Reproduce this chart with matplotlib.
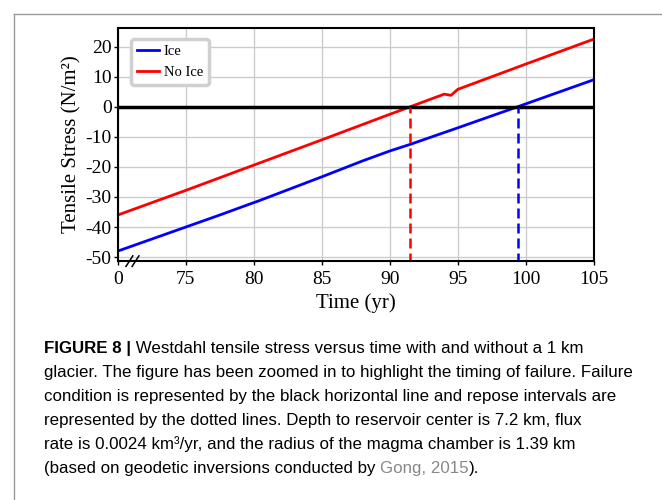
import matplotlib.pyplot as plt
from matplotlib.lines import Line2D

plt.rcParams['axes.unicode_minus'] = False

# data (0 on the broken axis is drawn at 70)
ice_t = [70, 75, 77.5, 79.8, 80.3, 85, 88, 90, 91.5, 95, 99.4, 105]
ice_s = [-48, -40, -36, -32.2, -31.4, -23.3, -18, -14.7, -12.5, -7, 0, 9]
noice_t = [70, 75, 80, 85, 90, 91.5, 94, 94.5, 95, 100, 105]
noice_s = [-36, -27.8, -19.4, -11, -2.5, 0, 4.2, 3.8, 5.8, 14.2, 22.5]
fail_ice = 99.4
fail_noice = 91.5
xticks = [70, 75, 80, 85, 90, 95, 100, 105]
xticklabels = ['0', '75', '80', '85', '90', '95', '100', '105']
yticks = [-50, -40, -30, -20, -10, 0, 10, 20]

serif = 'Liberation Serif'

fig = plt.figure(figsize=(6.62, 5.0), dpi=100)
ax = fig.add_axes([0.178, 0.478, 0.719, 0.466])

ax.grid(True, color='#cccccc', linewidth=1)
ax.set_axisbelow(True)
ax.plot(ice_t, ice_s, color='#0000ff', lw=2, label='Ice')
ax.plot(noice_t, noice_s, color='#ff0000', lw=2, label='No Ice')
ax.axhline(0, color='black', lw=2.5)
ax.plot([fail_noice, fail_noice], [-52, 0], color='#ff0000', lw=1.8, ls=(0, (4, 2)))
ax.plot([fail_ice, fail_ice], [-52, 0], color='#0000ff', lw=1.8, ls=(0, (4, 2)))

ax.set_xlim(70, 105)
ax.set_ylim(-51.3, 26.2)
ax.set_xticks(xticks)
ax.set_xticklabels(xticklabels)
ax.set_yticks(yticks)
for lab in ax.get_xticklabels() + ax.get_yticklabels():
    lab.set_fontfamily(serif)
    lab.set_fontsize(14)
ax.tick_params(direction='out', length=3, width=1)
ax.tick_params(axis='x', pad=4)
ax.tick_params(axis='y', pad=1.5)
for sp in ax.spines.values():
    sp.set_linewidth(1.5)

ax.set_xlabel('Time (yr)', family=serif, fontsize=15, labelpad=4)
ax.set_ylabel('Tensile Stress (N/m²)', family=serif, fontsize=15, labelpad=3)

# axis break marks
for dx in (0.0, 0.45):
    ax.add_line(Line2D([70.6 + dx, 71.1 + dx], [-53.1, -49.6], color='black',
                       lw=1.1, clip_on=False))

leg = ax.legend(loc='upper left', prop={'family': serif, 'size': 10.5},
                handlelength=1.5, handletextpad=0.35, borderpad=0.4,
                labelspacing=0.55, fancybox=True, framealpha=1,
                bbox_to_anchor=(0.012, 0.985))
leg.get_frame().set_edgecolor('#d0d0d0')
leg.get_frame().set_linewidth(2.5)

# page frame lines
fig.add_artist(Line2D([14 / 662, 1], [1 - 14 / 500] * 2, color='#999999', lw=1))
fig.add_artist(Line2D([14 / 662] * 2, [0, 1 - 14 / 500], color='#999999', lw=1))

# caption
cap_font = ['Liberation Sans Narrow', 'Liberation Sans']
cap_size = 12.2
x0 = 44 / 662
lines = [
    None,
    'glacier. The figure has been zoomed in to highlight the timing of failure. Failure',
    'condition is represented by the black horizontal line and repose intervals are',
    'represented by the dotted lines. Depth to reservoir center is 7.2 km, flux',
    'rate is 0.0024 km³/yr, and the radius of the magma chamber is 1.39 km',
    None,
]
y0 = 1 - 353 / 500
dy = 24 / 500
t = fig.text(x0, y0, 'FIGURE 8 |', family=cap_font, fontsize=cap_size,
             weight='bold', va='baseline')
ax.annotate(' Westdahl tensile stress versus time with and without a 1 km',
            xy=(1, 0), xycoords=t, va='bottom', family=cap_font, fontsize=cap_size)
for i in range(1, 5):
    fig.text(x0, y0 - i * dy, lines[i], family=cap_font, fontsize=cap_size,
             va='baseline')
t2 = fig.text(x0, y0 - 5 * dy, '(based on geodetic inversions conducted by ',
              family=cap_font, fontsize=cap_size, va='baseline')
t3 = ax.annotate('Gong, 2015', xy=(1, 0), xycoords=t2, va='bottom',
                 family=cap_font, fontsize=cap_size, color='#888888')
ax.annotate(').', xy=(1, 0), xycoords=t3, va='bottom',
            family=cap_font, fontsize=cap_size)

fig.savefig('out.png', dpi=100)
